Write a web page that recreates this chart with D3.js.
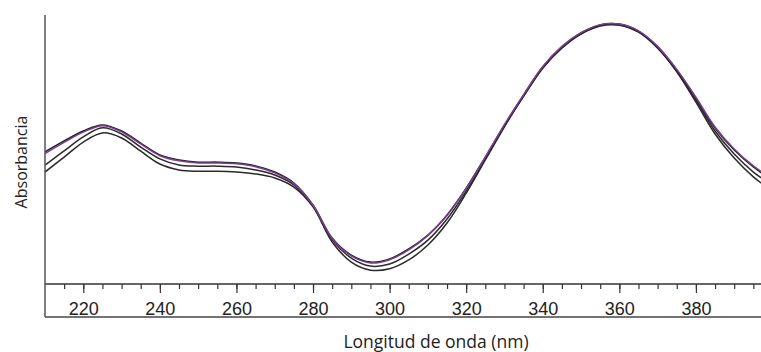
<!DOCTYPE html>
<html lang="es">
<head>
<meta charset="UTF-8" />
<title>Absorbancia</title>
<script src="https://d3js.org/d3.v7.min.js"></script>
<style>
  body { margin: 0; background: #fff; }
  svg { display: block; }
  .curve { fill: none; stroke-width: 1.5px; }
  .tick text { font: 18px "Liberation Sans", Arial, sans-serif; fill: #222; }
  .title { font-family: "Open Sans", sans-serif; fill: #222; }
</style>
</head>
<body>
<svg width="761" height="352"></svg>
<script>
// wavelength (nm)
const wavelengths = [210, 215, 220, 225, 230, 235, 240, 245, 250, 255, 260, 265, 270, 275, 280,
  285, 290, 295, 300, 305, 310, 315, 320, 325, 330, 335, 340, 345, 350, 355, 360, 365, 370, 375,
  380, 385, 390, 395, 400];

// absorbance, four spectra
const spectrumA = [0.489, 0.530, 0.567, 0.590, 0.567, 0.522, 0.478, 0.459, 0.451, 0.451, 0.448, 0.437, 0.414, 0.373, 0.291,
  0.168, 0.104, 0.078, 0.090, 0.127, 0.179, 0.254, 0.354, 0.470, 0.590, 0.701, 0.806, 0.881, 0.933, 0.963, 0.966, 0.940, 0.881, 0.795,
  0.690, 0.578, 0.496, 0.433, 0.384];
const spectrumB = [0.483, 0.525, 0.563, 0.587, 0.564, 0.519, 0.475, 0.456, 0.448, 0.448, 0.445, 0.434, 0.411, 0.371, 0.290,
  0.166, 0.101, 0.075, 0.087, 0.124, 0.177, 0.252, 0.353, 0.470, 0.591, 0.703, 0.808, 0.883, 0.934, 0.964, 0.966, 0.941, 0.883, 0.797,
  0.693, 0.582, 0.500, 0.437, 0.389];
const spectrumC = [0.440, 0.493, 0.545, 0.579, 0.556, 0.507, 0.463, 0.440, 0.436, 0.436, 0.433, 0.422, 0.403, 0.366, 0.287,
  0.161, 0.093, 0.063, 0.071, 0.108, 0.160, 0.239, 0.343, 0.463, 0.586, 0.697, 0.802, 0.877, 0.931, 0.961, 0.964, 0.938, 0.877, 0.791,
  0.683, 0.567, 0.481, 0.414, 0.365];
const spectrumD = [0.414, 0.470, 0.526, 0.560, 0.541, 0.492, 0.444, 0.422, 0.417, 0.417, 0.414, 0.407, 0.392, 0.358, 0.284,
  0.153, 0.078, 0.048, 0.053, 0.086, 0.142, 0.224, 0.335, 0.459, 0.583, 0.697, 0.802, 0.877, 0.929, 0.959, 0.962, 0.936, 0.877, 0.788,
  0.675, 0.556, 0.466, 0.396, 0.343];

const majorTicks = [220, 240, 260, 280, 300, 320, 340, 360, 380];

const plotLeft = 45, plotRight = 761, plotTop = 15, axisY = 284, frameBottom = 317;

const svg = d3.select("svg");

const x = d3.scaleLinear().domain([210, 397]).range([plotLeft, plotRight]);
const y = d3.scaleLinear().domain([0, 1]).range([axisY - 1, plotTop]);

svg.append("clipPath").attr("id", "plot")
  .append("rect").attr("x", plotLeft).attr("y", 0).attr("width", plotRight - plotLeft).attr("height", axisY);

const line = d3.line()
  .x((d, i) => x(wavelengths[i]))
  .y(d => y(d))
  .curve(d3.curveCatmullRom.alpha(0.5));

const series = [
  { values: spectrumD, color: "#2a2a2a" },
  { values: spectrumC, color: "#2a2a2a" },
  { values: spectrumA, color: "#1f1a22" },
  { values: spectrumB, color: "#7b3f8f" }
];

svg.append("g").attr("clip-path", "url(#plot)")
  .selectAll("path")
  .data(series)
  .join("path")
  .attr("class", "curve")
  .attr("stroke", d => d.color)
  .attr("d", d => line(d.values));

// minor ticks every 5 nm
svg.append("g")
  .attr("transform", `translate(0,${axisY})`)
  .call(d3.axisBottom(x).tickValues(d3.range(215, 397, 5)).tickSize(5).tickFormat(""))
  .call(g => g.select(".domain").remove())
  .call(g => g.selectAll("line").attr("stroke", "#333").attr("stroke-width", 1.2));

// major ticks
svg.append("g")
  .attr("transform", `translate(0,${axisY})`)
  .call(d3.axisBottom(x).tickValues(majorTicks).tickSize(9).tickPadding(9).tickFormat(d3.format("d")))
  .call(g => g.select(".domain").remove())
  .call(g => g.selectAll("line").attr("stroke", "#333").attr("stroke-width", 1.2));

// frame
svg.append("line").attr("x1", plotLeft).attr("x2", plotRight).attr("y1", axisY).attr("y2", axisY)
  .attr("stroke", "#333").attr("stroke-width", 1.5);
svg.append("line").attr("x1", plotLeft).attr("x2", plotRight).attr("y1", frameBottom).attr("y2", frameBottom)
  .attr("stroke", "#444").attr("stroke-width", 1.5);
svg.append("line").attr("x1", plotLeft).attr("x2", plotLeft).attr("y1", plotTop).attr("y2", frameBottom)
  .attr("stroke", "#555").attr("stroke-width", 1.5);

svg.append("text").attr("class", "title")
  .attr("x", 436).attr("y", 348)
  .attr("text-anchor", "middle")
  .style("font-size", "17.5px")
  .text("Longitud de onda (nm)");

svg.append("text").attr("class", "title")
  .attr("transform", "translate(27,162) rotate(-90)")
  .attr("text-anchor", "middle")
  .style("font-size", "16px")
  .text("Absorbancia");
</script>
</body>
</html>
